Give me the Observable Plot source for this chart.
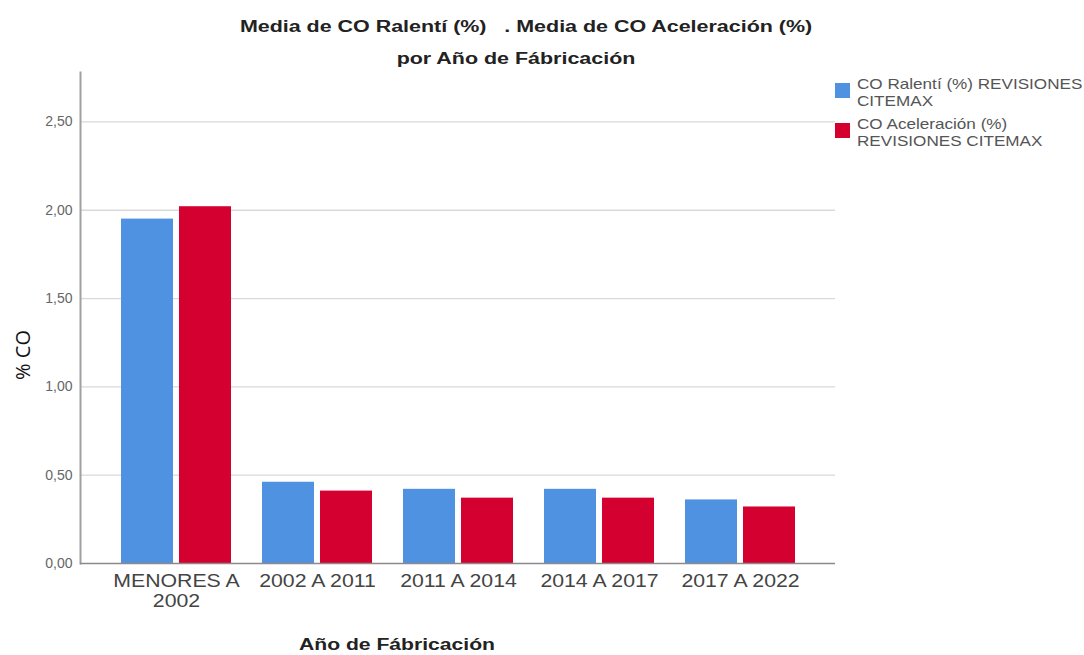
<!DOCTYPE html>
<html>
<head>
<meta charset="utf-8">
<script src="https://cdn.jsdelivr.net/npm/d3@7"></script>
<script src="https://cdn.jsdelivr.net/npm/@observablehq/plot@0.6"></script>
<style>
  html, body { margin: 0; padding: 0; background: #fff; }
  #wrap { position: relative; width: 1084px; height: 655px; font-family: "Liberation Sans", Arial, sans-serif; }
  .t { position: absolute; white-space: nowrap; }
  #title1, #title2 { font-weight: bold; font-size: 16px; color: #222; left: 526px; transform: translateX(-50%) scaleX(1.34); }
  #title1 { top: 18px; }
  #title2 { top: 50px; left: 516px; }
  #ylab { font-family: "Open Sans", sans-serif; font-size: 20px; color: #111; left: 22px; top: 355px; transform: translate(-50%, -50%) rotate(-90deg); }
  #xlab { font-weight: bold; font-size: 16px; color: #222; left: 397px; top: 636px; transform: translateX(-50%) scaleX(1.32); }
  #legend { position: absolute; left: 835px; top: 76px; font-size: 14.5px; color: #555; line-height: 17px; }
  .li { display: flex; align-items: flex-start; margin-bottom: 6px; }
  .sw { width: 15px; height: 15px; margin-top: 7px; margin-right: 7px; flex: none; }
  .lt { white-space: pre; transform: scaleX(1.18); transform-origin: left center; }
</style>
</head>
<body>
<div id="wrap">
  <div id="chart"></div>
  <div class="t" id="title1">Media de CO Ralentí (%) &nbsp; . Media de CO Aceleración (%)</div>
  <div class="t" id="title2">por Año de Fábricación</div>
  <div class="t" id="ylab">% CO</div>
  <div class="t" id="xlab">Año de Fábricación</div>
  <div id="legend"></div>
</div>
<script>
const categories = ["MENORES A 2002", "2002 A 2011", "2011 A 2014", "2014 A 2017", "2017 A 2022"];
const tickLabels = ["MENORES A\n2002", "2002 A 2011", "2011 A 2014", "2014 A 2017", "2017 A 2022"];
const ralenti = [1.95, 0.46, 0.42, 0.42, 0.36];
const aceleracion = [2.02, 0.41, 0.37, 0.37, 0.32];
const seriesNames = ["CO Ralentí (%) REVISIONES\nCITEMAX", "CO Aceleración (%)\nREVISIONES CITEMAX"];
const colors = ["#5092E2", "#D4002F"];
const yTicks = [0, 0.5, 1, 1.5, 2, 2.5];

const W = 1084, H = 655, mL = 80, mR = 249, mT = 72, mB = 92;
const pIn = 0.22, pOut = 0.287;
const step = (W - mL - mR) / (categories.length - pIn + 2 * pOut);
const bw = step * (1 - pIn);
const gap = 6;
const half = (bw - gap) / 2;

const rows = [];
categories.forEach((c, i) => {
  rows.push({cat: c, s: 0, v: ralenti[i]});
  rows.push({cat: c, s: 1, v: aceleracion[i]});
});
const fmt = d3.format(".2f");

const chart = Plot.plot({
  width: W, height: H,
  marginLeft: mL, marginRight: mR, marginTop: mT, marginBottom: mB,
  style: {fontFamily: "Liberation Sans, Arial, sans-serif", background: "transparent"},
  x: {type: "band", domain: categories, paddingInner: pIn, paddingOuter: pOut, label: null},
  y: {domain: [0, 2.78], label: null},
  marks: [
    Plot.ruleY(yTicks.slice(1), {stroke: "#d9d9d9", strokeWidth: 1.3}),
    Plot.barY(rows.filter(d => d.s === 0), {x: "cat", y: "v", fill: colors[0], insetRight: bw - half}),
    Plot.barY(rows.filter(d => d.s === 1), {x: "cat", y: "v", fill: colors[1], insetLeft: bw - half}),
    Plot.axisY({ticks: yTicks, tickFormat: d => fmt(d).replace(".", ","), tickSize: 0, tickPadding: 8, fontSize: 14, fill: "#666", label: null}),
    Plot.axisX({tickFormat: d => tickLabels[categories.indexOf(d)], tickSize: 0, tickPadding: 9, fontSize: 19, fill: "#444", label: null, lineHeight: 1.06}),
    Plot.frame({anchor: "left", stroke: "#a0a0a0", strokeWidth: 2}),
    Plot.ruleY([0], {stroke: "#8a8a8a", strokeWidth: 1.5})
  ]
});
document.getElementById("chart").appendChild(chart);

// horizontally stretch the category labels like the source rendering
chart.querySelectorAll('g[aria-label="x-axis tick label"] text').forEach(t => {
  const tr = t.getAttribute("transform") || "";
  t.setAttribute("transform", tr + " scale(1.12,1)");
});

const legend = document.getElementById("legend");
seriesNames.forEach((n, i) => {
  const li = document.createElement("div");
  li.className = "li";
  const sw = document.createElement("div");
  sw.className = "sw";
  sw.style.background = colors[i];
  const tx = document.createElement("div");
  tx.className = "lt";
  tx.textContent = n;
  li.appendChild(sw); li.appendChild(tx);
  legend.appendChild(li);
});
</script>
</body>
</html>
